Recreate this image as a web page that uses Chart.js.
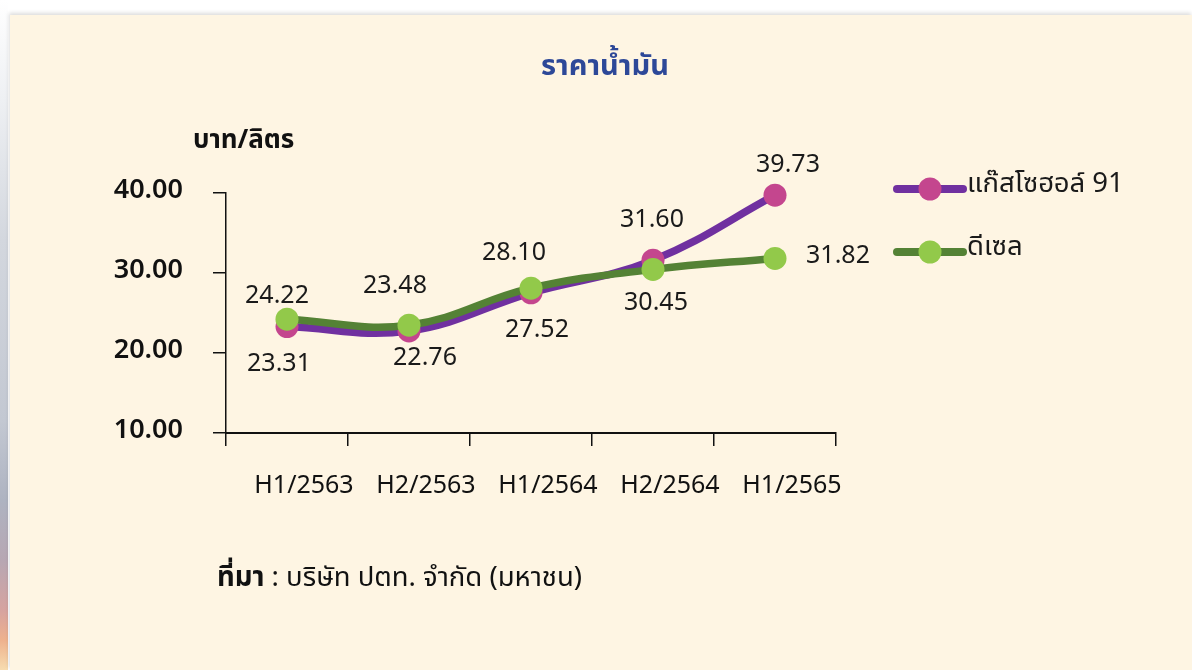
<!DOCTYPE html>
<html lang="th">
<head>
<meta charset="utf-8">
<script src="https://cdn.jsdelivr.net/npm/chart.js@4/dist/chart.umd.min.js"></script>
<style>
  html, body { margin:0; padding:0; }
  body { width:1192px; height:670px; overflow:hidden; background:#ffffff; position:relative;
         font-family:"Noto Sans Thai","Noto Sans","Open Sans","DejaVu Sans",sans-serif; color:#111; }
  #strip { position:absolute; left:0; top:0; width:8px; height:670px;
           background:linear-gradient(to bottom,#ffffff 0px,#eef0f3 100px,#d3d7de 240px,#c3c8d2 420px,#aeb3c1 500px,#b7a7b3 560px,#d6a3a0 610px,#eeb18d 640px,#f7dcb0 670px); }
  #card { position:absolute; left:10px; top:15px; right:0; bottom:0; background:#FEF5E3;
          box-shadow: -1px -2px 4px rgba(0,0,0,0.14); }
  #c { position:absolute; left:0; top:0; }
  .t { position:absolute; white-space:nowrap; }
  #title { left:605px; top:46px; transform:translateX(-50%); font-size:29px; font-weight:700; color:#2D4898; line-height:40px; }
  #unit { left:193px; top:122px; font-size:26px; font-weight:700; color:#111; line-height:36px; }
  #src { left:217px; top:559px; font-size:27.5px; color:#111; line-height:38px; }
  #src b { font-weight:700; }
</style>
</head>
<body>
<div id="strip"></div>
<div id="card"></div>
<canvas id="c" width="1192" height="670"></canvas>
<div class="t" id="title">ราคาน้ำมัน</div>
<div class="t" id="unit">บาท/ลิตร</div>
<div class="t" id="src"><b>ที่มา</b> : บริษัท ปตท. จำกัด (มหาชน)</div>
<script>
// ---- data ----
const categories = ["H1/2563", "H2/2563", "H1/2564", "H2/2564", "H1/2565"];
const gasohol91 = [23.31, 22.76, 27.52, 31.60, 39.73];
const diesel = [24.22, 23.48, 28.10, 30.45, 31.82];
const seriesNames = ["แก๊สโซฮอล์ 91", "ดีเซล"];
const yTicks = [10, 20, 30, 40];

// ---- styling (label offsets from each point, legend placement) ----
const labelOffsets = [
  [[-8, 39], [16, 29], [6, 39], [-1, -38], [13, -28]],
  [[-10, -21], [-14, -37], [-17, -33], [3, 36], [63, 0]]
];
const FONT = '"Noto Sans Thai","Noto Sans","Open Sans","DejaVu Sans",sans-serif';

const dataLabelPlugin = {
  id: 'dataLabels',
  afterDatasetsDraw(chart) {
    const ctx = chart.ctx;
    ctx.save();
    ctx.font = '25px ' + FONT;
    ctx.fillStyle = '#1a1a1a';
    ctx.textAlign = 'center';
    ctx.textBaseline = 'middle';
    chart.data.datasets.forEach((ds, di) => {
      const meta = chart.getDatasetMeta(di);
      meta.data.forEach((pt, i) => {
        const off = labelOffsets[di][i];
        ctx.fillText(ds.data[i].toFixed(2), pt.x + off[0], pt.y + off[1]);
      });
    });
    ctx.restore();
  }
};

const legendPlugin = {
  id: 'customLegend',
  afterDraw(chart) {
    const ctx = chart.ctx;
    const x0 = chart.chartArea.right + 61;
    const rows = [chart.chartArea.top - 4, chart.chartArea.top + 59];
    ctx.save();
    chart.data.datasets.forEach((ds, di) => {
      const y = rows[di];
      ctx.strokeStyle = ds.borderColor;
      ctx.lineWidth = 8;
      ctx.lineCap = 'round';
      ctx.beginPath();
      ctx.moveTo(x0, y);
      ctx.lineTo(x0 + 66, y);
      ctx.stroke();
      ctx.fillStyle = ds.pointBackgroundColor;
      ctx.beginPath();
      ctx.arc(x0 + 33, y, 11.5, 0, Math.PI * 2);
      ctx.fill();
      ctx.fillStyle = '#1a1a1a';
      ctx.font = '27.5px ' + FONT;
      ctx.textAlign = 'left';
      ctx.textBaseline = 'middle';
      ctx.fillText(ds.label, x0 + 70, y - 3);
    });
    ctx.restore();
  }
};

new Chart(document.getElementById('c'), {
  type: 'line',
  data: {
    labels: categories,
    datasets: [
      {
        label: seriesNames[0],
        data: gasohol91,
        borderColor: '#7030A0',
        borderWidth: 7.5,
        borderCapStyle: 'round',
        pointBackgroundColor: '#C4468E',
        pointBorderWidth: 0,
        pointRadius: 11.5,
        pointHoverRadius: 11.5,
        tension: 0.4,
        clip: false,
        order: 1
      },
      {
        label: seriesNames[1],
        data: diesel,
        borderColor: '#548235',
        borderWidth: 7.5,
        borderCapStyle: 'round',
        pointBackgroundColor: '#92C94A',
        pointBorderWidth: 0,
        pointRadius: 11.5,
        pointHoverRadius: 11.5,
        tension: 0.4,
        clip: false,
        order: 0
      }
    ]
  },
  options: {
    responsive: false,
    animation: false,
    devicePixelRatio: 1,
    layout: { padding: { left: 0, top: 193, right: 356, bottom: 157 } },
    plugins: { legend: { display: false }, title: { display: false }, tooltip: { enabled: false } },
    scales: {
      x: {
        type: 'category',
        offset: true,
        afterFit(s) { s.height = 80; },
        grid: { offset: true, drawOnChartArea: false, drawTicks: true, tickLength: 13, color: '#111', lineWidth: 1.5 },
        border: { display: true, color: '#111', width: 2 },
        ticks: { color: '#111', font: { family: FONT, size: 25 }, padding: 27, labelOffset: 17, maxRotation: 0, autoSkip: false }
      },
      y: {
        min: yTicks[0],
        max: yTicks[yTicks.length - 1],
        afterFit(s) { s.width = 226; },
        afterBuildTicks(s) { s.ticks = yTicks.map(v => ({ value: v })); },
        grid: { drawOnChartArea: false, drawTicks: true, tickLength: 13, color: '#111', lineWidth: 1.5 },
        border: { display: true, color: '#111', width: 1.5 },
        ticks: { color: '#111', font: { family: FONT, size: 27, weight: '600' }, padding: 30,
                 callback: v => Number(v).toFixed(2) }
      }
    }
  },
  plugins: [dataLabelPlugin, legendPlugin]
});
</script>
</body>
</html>
